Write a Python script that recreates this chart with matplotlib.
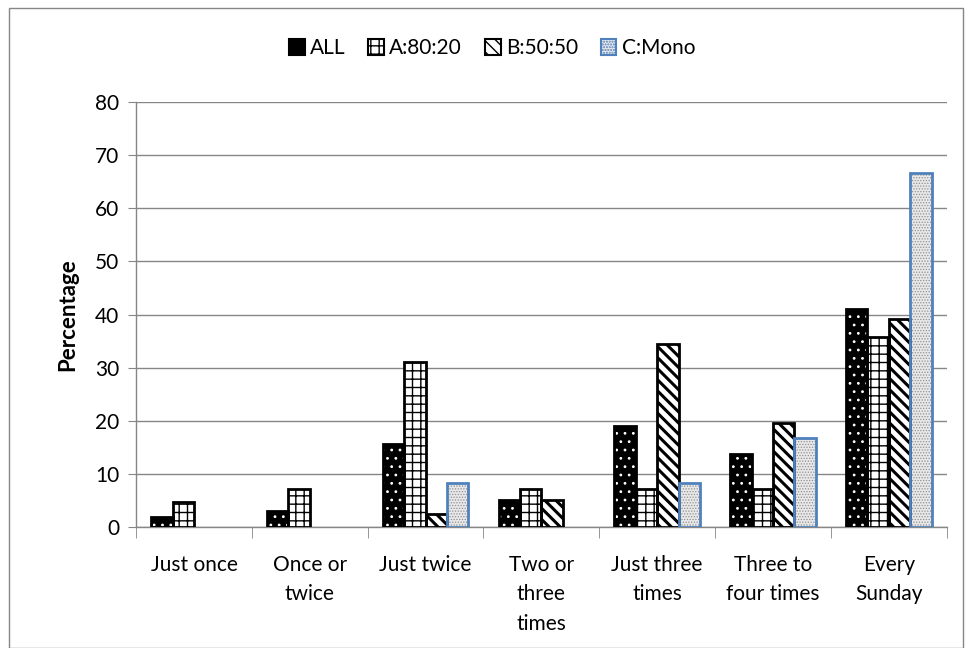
import matplotlib as mpl
import matplotlib.pyplot as plt
import numpy as np
from matplotlib.patches import Rectangle

categories = ["Just once", "Once or\ntwice", "Just twice", "Two or\nthree\ntimes",
              "Just three\ntimes", "Three to\nfour times", "Every\nSunday"]
series_names = ["ALL", "A:80:20", "B:50:50", "C:Mono"]
all_vals = [1.9, 3.0, 15.7, 5.1, 19.0, 13.7, 41.0]
a_vals = [4.8, 7.1, 31.0, 7.1, 7.1, 7.1, 35.7]
b_vals = [0, 0, 2.4, 5.0, 34.4, 19.5, 39.1]
c_vals = [0, 0, 8.2, 0, 8.2, 16.8, 66.7]

plt.rcParams['font.family'] = ['Lato', 'DejaVu Sans']

fig = plt.figure(figsize=(9.65, 6.48), dpi=100)
ax = fig.add_axes([0.141, 0.1867, 0.84, 0.6559])

x = np.arange(len(categories))
w = 0.185
offsets = [-1.5 * w, -0.5 * w, 0.5 * w, 1.5 * w]

# (face, hatch colour, hatch, hatch lw, outline colour)
styles = [
    ('black', 'white', '..', 0.8, 'black'),
    ('white', 'black', '++', 1.0, 'black'),
    ('white', 'black', '\\\\\\', 2.2, 'black'),
    ('#e8e8e8', '#909090', '......', 0.6, '#4f81bd'),
]
data = [all_vals, a_vals, b_vals, c_vals]


def hatch_lw(artist, lw):
    if hasattr(artist, 'set_hatch_linewidth'):
        artist.set_hatch_linewidth(lw)


handles = []
for vals, off, (fc, hc, hatch, hlw, oc), name in zip(data, offsets, styles, series_names):
    v = np.array(vals)
    mask = v > 0
    with mpl.rc_context({'hatch.linewidth': hlw}):
        bars = ax.bar(x[mask] + off, v[mask], w, color=fc, edgecolor=hc, hatch=hatch,
                      linewidth=0, zorder=3)
        for b in bars:
            hatch_lw(b, hlw)
        h = Rectangle((0, 0), 1, 1, facecolor=fc, edgecolor=oc, hatch=hatch,
                      linewidth=1.5, label=name)
        hatch_lw(h, hlw)
    ax.bar(x[mask] + off, v[mask], w, fill=False, edgecolor=oc, linewidth=2, zorder=4)
    handles.append(h)

ax.set_xlim(-0.5, len(categories) - 0.5)
ax.set_ylim(0, 80)
ax.set_yticks(range(0, 81, 10))
ax.set_xticks(x)
ax.set_xticklabels(categories, fontsize=15, linespacing=1.6)
ax.set_xticks(np.arange(-0.5, len(categories), 1), minor=True)
ax.tick_params(axis='x', which='major', length=0, pad=20)
ax.tick_params(axis='x', which='minor', length=8, color='#868686')
ax.tick_params(axis='y', length=6, color='#868686', labelsize=15, pad=6)

ax.yaxis.grid(True, color='#868686', linewidth=1)
ax.set_axisbelow(True)
for s in ['top', 'right']:
    ax.spines[s].set_visible(False)
for s in ['left', 'bottom']:
    ax.spines[s].set_color('#868686')
    ax.spines[s].set_linewidth(1)

ax.set_ylabel("Percentage", fontsize=16, fontweight='bold', labelpad=12)

fig.legend(handles=handles, loc='upper center', bbox_to_anchor=(0.51, 0.97), ncol=4,
           frameon=False, fontsize=15, handlelength=0.75, handleheight=0.75,
           handletextpad=0.25, columnspacing=1.1)

fig.patches.append(Rectangle((0.009, 0.0), 0.989, 0.988, transform=fig.transFigure,
                             fill=False, edgecolor='#868686', linewidth=1))

fig.savefig("out.png", dpi=100)
